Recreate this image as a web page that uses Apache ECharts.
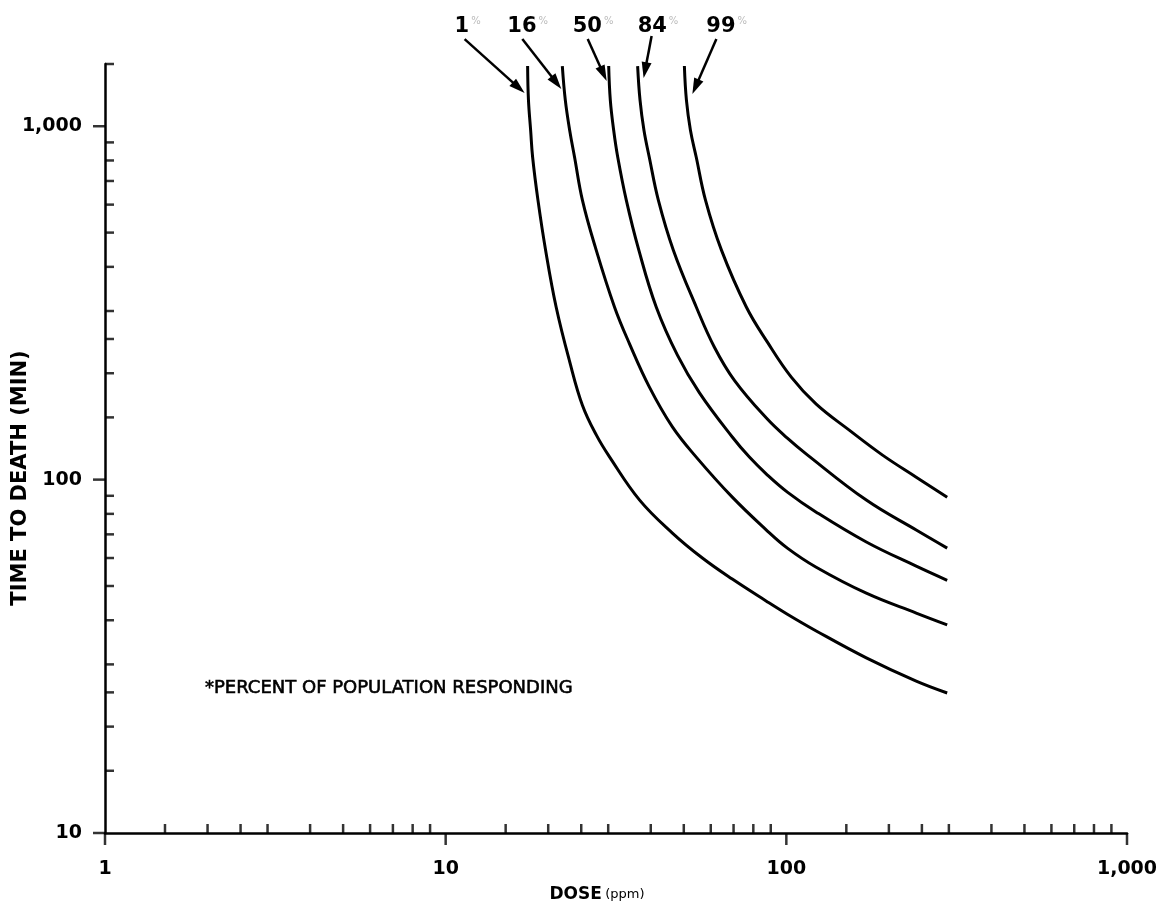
<!DOCTYPE html>
<html>
<head>
<meta charset="utf-8">
<script src="https://cdn.jsdelivr.net/npm/echarts@6/dist/echarts.min.js"></script>
<style>
html, body { margin: 0; padding: 0; background: #fff; }
#main { width: 1166px; height: 913px; }
</style>
</head>
<body>
<div id="main"></div>
<script>
// percent of population responding, one curve each
var pctLabels = ['1', '16', '50', '84', '99'];

// dose (ppm) / time to death (min)
var dose01 = [17.4, 17.5, 17.76, 18.0, 18.66, 19.65, 21.1, 23.1, 25.2, 27.7, 30.3, 37.1, 46.3, 56.7, 69.4, 87.4, 100.7, 122.4, 171.7, 240.6, 296.6];
var time01 = [1480, 1185, 974, 817, 618, 446, 308, 216.4, 162.4, 133.6, 115.8, 87.5, 70.6, 60.0, 52.3, 45.3, 41.6, 37.3, 31.3, 26.9, 24.9];

var dose16 = [22.0, 22.45, 23.12, 23.9, 25.2, 27.5, 31.3, 34.6, 39.6, 46.3, 54.4, 69.4, 87.4, 100.7, 122.4, 171.7, 240.6, 296.6];
var time16 = [1480, 1185, 974, 817, 618, 454.7, 308, 243, 183, 141, 115.8, 89.2, 72.0, 64.0, 56.5, 47.7, 41.9, 38.8];

var dose50 = [30.1, 30.43, 31.13, 32.0, 33.9, 36.9, 41.5, 47.9, 55.6, 69.4, 77.9, 87.4, 100.7, 122.4, 171.7, 240.6, 296.6];
var time50 = [1480, 1185, 974, 817, 618, 446, 308, 225, 176, 132, 115.8, 103.7, 92.2, 80.9, 66.6, 56.9, 51.9];

var dose84 = [36.6, 37.2, 38.2, 39.6, 42.1, 46.6, 54.4, 61.5, 70.4, 87.4, 100.7, 114.5, 171.7, 240.6, 296.6];
var time84 = [1480, 1185, 974, 817, 618, 446, 308, 237, 191, 149.3, 131, 118.1, 87.5, 72.0, 64.0];

var dose99 = [50.2, 50.9, 52.3, 54.4, 57.9, 64.5, 76.3, 88.0, 103.4, 122.4, 153, 191.6, 240.6, 296.6];
var time99 = [1480, 1185, 974, 817, 618, 446, 308, 244.9, 195, 163.5, 138, 117.3, 101.6, 89.2];

// axis ticks as printed on the original
var xMajorTicks = [1, 10, 100, 1000];
var xMinorTicks = [1.5, 2, 2.5, 3, 4, 5, 6, 7, 8, 9, 15, 20, 25, 30, 40, 50, 60, 70, 80, 90,
                   150, 200, 250, 300, 400, 500, 600, 700, 800, 900];
var yMajorTicks = [10, 100, 1000];
var yMinorTicks = [15, 20, 25, 30, 40, 50, 60, 70, 80, 90,
                   150, 200, 250, 300, 400, 500, 600, 700, 800, 900, 1500];

var curves = [[dose01, time01], [dose16, time16], [dose50, time50], [dose84, time84], [dose99, time99]];

// pixel offsets of arrow tip / tail / label from the top of each curve
var arrowLayout = [
    { tip: [-3, 27], tail: [-63, -27], text: [-73, -40] },
    { tip: [-1, 23], tail: [-40, -27], text: [-55, -40] },
    { tip: [-2, 15], tail: [-21, -27], text: [-36, -40] },
    { tip: [6, 12],  tail: [14, -30],  text: [0, -40] },
    { tip: [8, 28],  tail: [32, -27],  text: [22, -40] }
];

var FONT = 'DejaVu Sans';

function fmt(v) {
    return Number(v).toLocaleString('en-US');
}

function pairs(xs, ys) {
    return xs.map(function (x, i) { return [x, ys[i]]; });
}

var myChart = echarts.init(document.getElementById('main'));

var series = curves.map(function (c, i) {
    return {
        name: pctLabels[i] + '%',
        type: 'line',
        data: pairs(c[0], c[1]),
        smooth: 0.4,
        showSymbol: false,
        silent: true,
        lineStyle: { color: '#000', width: 3 }
    };
});

function tickSeries(data, size, offset) {
    return {
        type: 'scatter',
        data: data,
        symbol: 'rect',
        symbolSize: size,
        symbolOffset: offset,
        itemStyle: { color: '#000' },
        silent: true,
        clip: false,
        z: 4
    };
}

series.push(tickSeries(xMinorTicks.map(function (v) { return [v, 10]; }), [2.5, 9], [0, -4.5]));
series.push(tickSeries(xMajorTicks.map(function (v) { return [v, 10]; }), [2.5, 12], [0, 6]));
series.push(tickSeries(yMinorTicks.map(function (v) { return [1, v]; }), [9, 2.5], [4.5, 0]));
series.push(tickSeries(yMajorTicks.map(function (v) { return [1, v]; }), [12, 2.5], [-6, 0]));

// arrows and percentage labels at the top of the curves
series.push({
    type: 'custom',
    coordinateSystem: 'cartesian2d',
    clip: false,
    silent: true,
    z: 5,
    data: curves.map(function (c, i) { return [c[0][0], c[1][0], i]; }),
    renderItem: function (params, api) {
        var i = api.value(2);
        var base = api.coord([api.value(0), api.value(1)]);
        var L = arrowLayout[i];
        var tip = [base[0] + L.tip[0], base[1] + L.tip[1]];
        var tail = [base[0] + L.tail[0], base[1] + L.tail[1]];
        var dx = tip[0] - tail[0], dy = tip[1] - tail[1];
        var len = Math.sqrt(dx * dx + dy * dy);
        var ux = dx / len, uy = dy / len;
        var hl = 16, hw = 5;
        var bx = tip[0] - ux * hl, by = tip[1] - uy * hl;
        return {
            type: 'group',
            children: [
                {
                    type: 'line',
                    shape: { x1: tail[0], y1: tail[1], x2: bx + ux * 3, y2: by + uy * 3 },
                    style: { stroke: '#000', lineWidth: 2.5 }
                },
                {
                    type: 'polygon',
                    shape: { points: [tip, [bx - uy * hw, by + ux * hw], [bx + uy * hw, by - ux * hw]] },
                    style: { fill: '#000' }
                },
                {
                    type: 'text',
                    x: base[0] + L.text[0],
                    y: base[1] + L.text[1],
                    style: {
                        text: '{n|' + pctLabels[i] + '}{p|%}',
                        align: 'left',
                        verticalAlign: 'middle',
                        rich: {
                            n: { fontFamily: FONT, fontSize: 21, fontWeight: 'bold', fill: '#000' },
                            p: { fontFamily: FONT, fontSize: 10, fill: '#bbb', padding: [0, 0, 10, 2] }
                        }
                    }
                }
            ]
        };
    }
});

myChart.setOption({
    animation: false,
    backgroundColor: '#fff',
    grid: {
        left: 105,
        right: 39,
        top: 64,
        bottom: 80,
        outerBoundsMode: 'none'
    },
    xAxis: {
        type: 'log',
        logBase: 10,
        min: 1,
        max: 1000,
        axisLine: { onZero: false, lineStyle: { color: '#000', width: 2.5 } },
        axisTick: { show: false },
        splitLine: { show: false },
        axisLabel: {
            margin: 27,
            color: '#000',
            fontFamily: FONT,
            fontSize: 19,
            fontWeight: 'bold',
            formatter: fmt
        }
    },
    yAxis: {
        type: 'log',
        logBase: 10,
        min: 10,
        max: 1500,
        axisLine: { onZero: false, lineStyle: { color: '#000', width: 2.5 } },
        axisTick: { show: false },
        splitLine: { show: false },
        axisLabel: {
            margin: 23,
            color: '#000',
            fontFamily: FONT,
            fontSize: 19,
            fontWeight: 'bold',
            showMaxLabel: false,
            formatter: fmt
        }
    },
    graphic: [
        {
            type: 'text',
            x: 21,
            y: 478,
            rotation: Math.PI / 2,
            style: {
                text: 'TIME TO DEATH (MIN)',
                align: 'center',
                verticalAlign: 'middle',
                fontFamily: FONT,
                fontSize: 21,
                fontWeight: 'bold',
                fill: '#000'
            }
        },
        {
            type: 'text',
            x: 597,
            y: 895,
            style: {
                text: '{a|DOSE} {b|(ppm)}',
                align: 'center',
                verticalAlign: 'middle',
                rich: {
                    a: { fontFamily: FONT, fontSize: 17, fontWeight: 'bold', fill: '#000' },
                    b: { fontFamily: FONT, fontSize: 13, fill: '#000' }
                }
            }
        },
        {
            type: 'text',
            x: 205,
            y: 688,
            style: {
                text: '*PERCENT OF POPULATION RESPONDING',
                align: 'left',
                verticalAlign: 'middle',
                fontFamily: FONT,
                fontSize: 18,
                fill: '#000',
                stroke: '#000',
                lineWidth: 0.6
            }
        }
    ],
    series: series
});
</script>
</body>
</html>
